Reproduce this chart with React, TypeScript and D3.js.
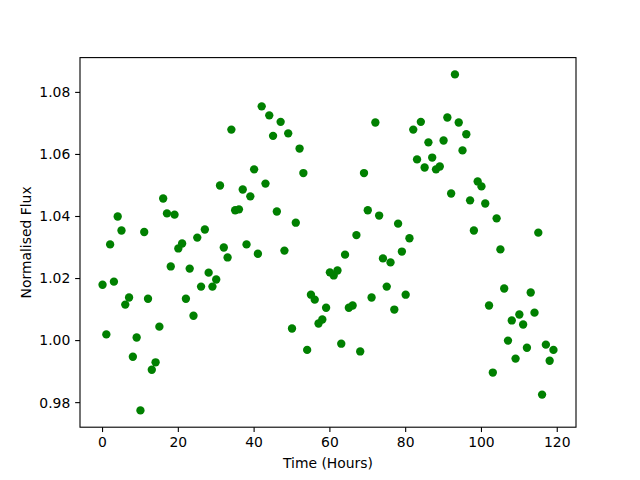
import React from "react";
import * as d3 from "d3";

const hours: number[] = d3.range(0, 120);
const flux: number[] = [
  1.018, 1.002, 1.031, 1.019, 1.040, 1.0355, 1.0116, 1.0139, 0.9948, 1.001,
  0.9775, 1.035, 1.0135, 0.9906, 0.993, 1.0045, 1.0458, 1.041, 1.0239, 1.0406,
  1.0297, 1.0313, 1.0135, 1.0232, 1.008, 1.0332, 1.0174, 1.0358, 1.0219, 1.0174,
  1.0197, 1.05, 1.03, 1.0268, 1.068, 1.042, 1.0423, 1.0487, 1.031, 1.0465,
  1.0552, 1.028, 1.0755, 1.0506, 1.0726, 1.066, 1.0416, 1.0705, 1.029, 1.0668,
  1.0039, 1.038, 1.0619, 1.054, 0.997, 1.0148, 1.0132, 1.0055, 1.0068, 1.0106,
  1.022, 1.021, 1.0226, 0.999, 1.0277, 1.0106, 1.0113, 1.034, 0.9965, 1.054,
  1.042, 1.0139, 1.0703, 1.0403, 1.0265, 1.0174, 1.0252, 1.01, 1.0377, 1.0287,
  1.0148, 1.033, 1.068, 1.0584, 1.0705, 1.0558, 1.0639, 1.059, 1.0552, 1.0561,
  1.0645, 1.0719, 1.0474, 1.0858, 1.0703, 1.0613, 1.0665, 1.0452, 1.0355, 1.0513,
  1.0497, 1.0442, 1.0113, 0.9897, 1.0394, 1.0294, 1.0168, 1.0, 1.0065, 0.9942,
  1.0084, 1.0052, 0.9977, 1.0155, 1.009, 1.0348, 0.9826, 0.9987, 0.9935, 0.997,
];
const xTicks: number[] = [0, 20, 40, 60, 80, 100, 120];
const yTicks: number[] = [0.98, 1.0, 1.02, 1.04, 1.06, 1.08];
const xLabel = "Time (Hours)";
const yLabel = "Normalised Flux";

export default function App() {
  const W = 640, H = 480;
  const left = 80, right = 576, top = 57.6, bottom = 427.2;
  const xMin = d3.min(hours)!, xMax = d3.max(hours)!;
  const yMin = d3.min(flux)!, yMax = d3.max(flux)!;
  const xm = (xMax - xMin) * 0.05, ym = (yMax - yMin) * 0.05;
  const x = d3.scaleLinear().domain([xMin - xm, xMax + xm]).range([left, right]);
  const y = d3.scaleLinear().domain([yMin - ym, yMax + ym]).range([bottom, top]);
  const font = "DejaVu Sans, sans-serif";
  const fs = 13.9;
  const tick = 4.86;
  return (
    <svg width={W} height={H} style={{ position: "absolute", left: 0, top: 0, background: "#fff" }}>
      <rect x={0} y={0} width={W} height={H} fill="#fff" />
      <g>
        {hours.map((h, i) => (
          <circle key={i} cx={x(h)} cy={y(flux[i])} r={4.17} fill="#008000" />
        ))}
      </g>
      <rect x={left} y={top} width={right - left} height={bottom - top} fill="none" stroke="#000" strokeWidth={1.1} />
      {xTicks.map((t) => (
        <g key={"x" + t}>
          <line x1={x(t)} x2={x(t)} y1={bottom} y2={bottom + tick} stroke="#000" strokeWidth={1.1} />
          <text x={x(t)} y={bottom + tick + 4.86 + 10.5} fontFamily={font} fontSize={fs} textAnchor="middle" fill="#000">{t}</text>
        </g>
      ))}
      {yTicks.map((t) => (
        <g key={"y" + t}>
          <line x1={left - tick} x2={left} y1={y(t)} y2={y(t)} stroke="#000" strokeWidth={1.1} />
          <text x={left - tick - 4.86} y={y(t)} dy="0.35em" fontFamily={font} fontSize={fs} textAnchor="end" fill="#000">{t.toFixed(2)}</text>
        </g>
      ))}
      <text x={(left + right) / 2} y={468} fontFamily={font} fontSize={fs} textAnchor="middle" fill="#000">{xLabel}</text>
      <text transform={`translate(31,${(top + bottom) / 2}) rotate(-90)`} fontFamily={font} fontSize={fs} textAnchor="middle" fill="#000">{yLabel}</text>
    </svg>
  );
}
